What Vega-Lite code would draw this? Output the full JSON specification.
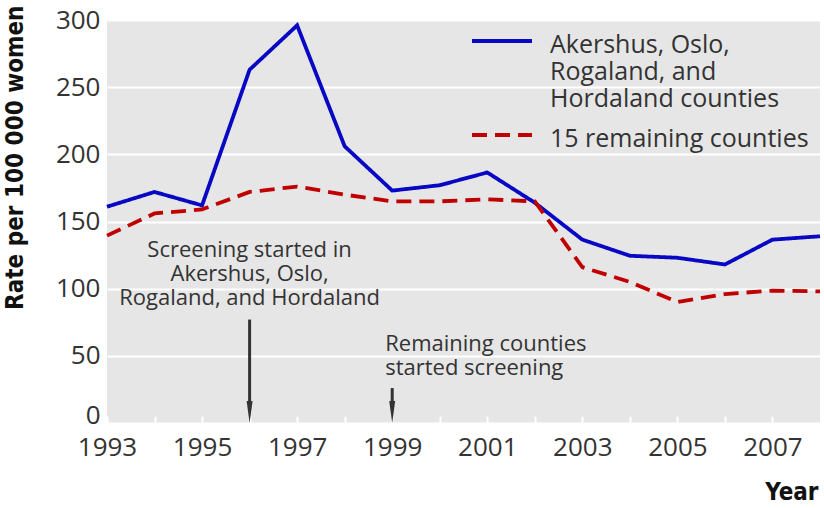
{
  "$schema": "https://vega.github.io/schema/vega-lite/v6.json",
  "width": 713,
  "height": 403,
  "autosize": {"type": "none"},
  "padding": {"left": 107, "top": 20, "right": 4, "bottom": 85},
  "background": "white",
  "config": {
    "view": {"fill": "#e6e6e6", "stroke": null},
    "font": "Open Sans",
    "legend": {
      "orient": "none",
      "legendX": 378,
      "legendY": 4,
      "title": null,
      "labelFont": "Open Sans",
      "labelFontSize": 25,
      "labelLineHeight": 27,
      "labelColor": "#333333",
      "labelLimit": 400,
      "labelOffset": 31,
      "symbolType": "M-2,0L2,0",
      "symbolSize": 900,
      "symbolStrokeWidth": 4,
      "rowPadding": 6,
      "labelBaseline": "top"
    }
  },
  "datasets": {
    "series": [
      {"year": 1993, "rate": 161, "group": "A"},
      {"year": 1994, "rate": 172, "group": "A"},
      {"year": 1995, "rate": 162, "group": "A"},
      {"year": 1996, "rate": 263, "group": "A"},
      {"year": 1997, "rate": 296, "group": "A"},
      {"year": 1998, "rate": 206, "group": "A"},
      {"year": 1999, "rate": 173, "group": "A"},
      {"year": 2000, "rate": 177, "group": "A"},
      {"year": 2001, "rate": 186.5, "group": "A"},
      {"year": 2002, "rate": 164, "group": "A"},
      {"year": 2003, "rate": 136.5, "group": "A"},
      {"year": 2004, "rate": 124.5, "group": "A"},
      {"year": 2005, "rate": 123, "group": "A"},
      {"year": 2006, "rate": 118, "group": "A"},
      {"year": 2007, "rate": 136.5, "group": "A"},
      {"year": 2008, "rate": 139, "group": "A"},
      {"year": 1993, "rate": 139.5, "group": "B"},
      {"year": 1994, "rate": 156, "group": "B"},
      {"year": 1995, "rate": 159, "group": "B"},
      {"year": 1996, "rate": 172, "group": "B"},
      {"year": 1997, "rate": 176, "group": "B"},
      {"year": 1998, "rate": 170, "group": "B"},
      {"year": 1999, "rate": 165, "group": "B"},
      {"year": 2000, "rate": 165, "group": "B"},
      {"year": 2001, "rate": 166.5, "group": "B"},
      {"year": 2002, "rate": 165, "group": "B"},
      {"year": 2003, "rate": 116, "group": "B"},
      {"year": 2004, "rate": 105, "group": "B"},
      {"year": 2005, "rate": 90, "group": "B"},
      {"year": 2006, "rate": 96, "group": "B"},
      {"year": 2007, "rate": 98.5, "group": "B"},
      {"year": 2008, "rate": 98, "group": "B"}
    ],
    "notes": [
      {"year": 1996, "rate": 136.5, "text": ["Screening started in", "Akershus, Oslo,", "Rogaland, and Hordaland"]}
    ],
    "notes2": [
      {"year": 1999, "rate": 66, "text": ["Remaining counties", "started screening"]}
    ],
    "arrows": [
      {"year": 1996, "top": 77},
      {"year": 1999, "top": 26}
    ]
  },
  "layer": [
    {
      "data": {"name": "series"},
      "mark": {"type": "line", "strokeWidth": 3.8, "strokeCap": "butt", "strokeJoin": "miter"},
      "encoding": {
        "x": {
          "field": "year", "type": "quantitative",
          "scale": {"domain": [1993, 2008], "nice": false, "zero": false},
          "axis": {
            "values": [1993, 1994, 1995, 1996, 1997, 1998, 1999, 2000, 2001, 2002, 2003, 2004, 2005, 2006, 2007],
            "labelExpr": "datum.value % 2 == 1 ? '' + datum.value : ''",
            "domain": false,
            "grid": false,
            "tickColor": "white",
            "tickWidth": 2,
            "tickSize": -7,
            "labelFont": "Open Sans",
            "labelFontSize": 26,
            "labelColor": "#333333",
            "labelPadding": 18,
            "labelFlush": false,
            "labelOverlap": false,
            "title": "Year",
            "titleFont": "DejaVu Sans Condensed",
            "titleFontSize": 24,
            "titleFontWeight": "bold",
            "titleColor": "#111111",
            "titleX": 711,
            "titleY": 69,
            "titleAlign": "right",
            "titleBaseline": "middle"
          }
        },
        "y": {
          "field": "rate", "type": "quantitative",
          "scale": {"domain": [0, 300], "nice": false},
          "axis": {
            "values": [0, 50, 100, 150, 200, 250, 300],
            "domain": false,
            "ticks": false,
            "grid": true,
            "gridColor": "white",
            "gridWidth": 2,
            "labelFont": "Open Sans",
            "labelFontSize": 26,
            "labelColor": "#333333",
            "labelPadding": 7,
            "labelOffset": {"condition": {"test": "datum.value == 0", "value": -8}, "value": 0},
            "title": "Rate per 100 000 women",
            "titleFont": "DejaVu Sans Condensed",
            "titleFontSize": 24,
            "titleFontWeight": "bold",
            "titleColor": "#111111",
            "titleAngle": -90,
            "titleX": -92,
            "titleY": -15,
            "titleAlign": "right",
            "titleBaseline": "middle"
          }
        },
        "color": {
          "field": "group", "type": "nominal",
          "scale": {"domain": ["A", "B"], "range": ["#0707c4", "#c00000"]},
          "legend": {
            "labelExpr": "datum.value == 'A' ? ['Akershus, Oslo,', 'Rogaland, and', 'Hordaland counties'] : '15 remaining counties'",
            "encode": {"labels": {"update": {"dy": {"value": -8}}}}
          }
        },
        "strokeDash": {
          "field": "group", "type": "nominal",
          "scale": {"domain": ["A", "B"], "range": [[1, 0], [15, 8]]},
          "legend": {
            "labelExpr": "datum.value == 'A' ? ['Akershus, Oslo,', 'Rogaland, and', 'Hordaland counties'] : '15 remaining counties'",
            "encode": {"labels": {"update": {"dy": {"value": -8}}}}
          }
        }
      }
    },
    {
      "data": {"name": "arrows"},
      "mark": {"type": "rule", "color": "#333333", "strokeWidth": 3},
      "encoding": {
        "x": {"field": "year", "type": "quantitative"},
        "y": {"field": "top", "type": "quantitative"},
        "y2": {"datum": 10}
      }
    },
    {
      "data": {"name": "arrows"},
      "mark": {"type": "point", "shape": "M-0.27,-1L0.27,-1L0,1Z", "size": 484, "filled": true, "color": "#333333", "opacity": 1, "yOffset": -11},
      "encoding": {
        "x": {"field": "year", "type": "quantitative"},
        "y": {"datum": 0}
      }
    },
    {
      "data": {"name": "notes"},
      "mark": {"type": "text", "font": "Open Sans", "fontSize": 22, "color": "#333333", "baseline": "top", "align": "center", "lineHeight": 24},
      "encoding": {
        "x": {"field": "year", "type": "quantitative"},
        "y": {"field": "rate", "type": "quantitative"},
        "text": {"field": "text"}
      }
    },
    {
      "data": {"name": "notes2"},
      "mark": {"type": "text", "font": "Open Sans", "fontSize": 22, "color": "#333333", "baseline": "top", "align": "left", "dx": -7, "lineHeight": 24},
      "encoding": {
        "x": {"field": "year", "type": "quantitative"},
        "y": {"field": "rate", "type": "quantitative"},
        "text": {"field": "text"}
      }
    }
  ]
}
